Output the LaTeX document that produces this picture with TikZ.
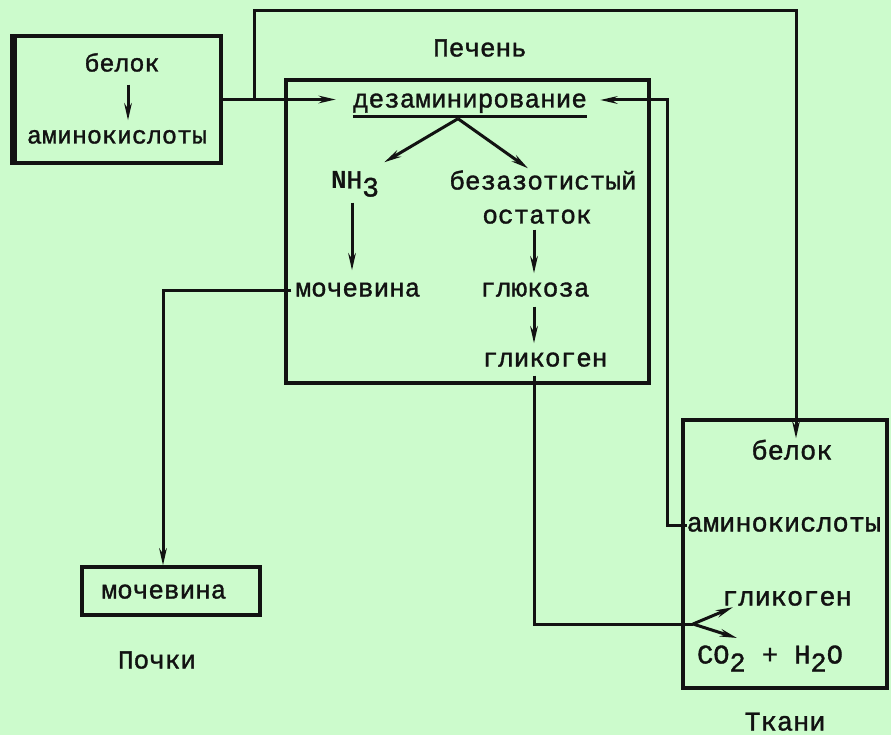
\documentclass[tikz,border=0pt]{standalone}
\usepackage{fontspec}
\setmonofont[FakeBold=1.3]{Liberation Mono}
\newfontfamily\nbold{Liberation Mono Bold}
\usetikzlibrary{arrows.meta,calc}
\definecolor{bg}{RGB}{204,251,204}
\definecolor{ink}{RGB}{18,18,18}
\begin{document}
\begin{tikzpicture}[x=1pt,y=-1pt,
  ln/.style={draw=ink, line width=3pt},
  arr/.style={ln, -{Stealth[length=17pt,width=7.5pt]}},
  box/.style={draw=ink, line width=3.2pt, inner sep=0pt},
  txt/.style={inner sep=0pt, text=ink, text height=13pt, text depth=0pt,
    font=\ttfamily\fontsize{26}{28}\selectfont},
  txts/.style={txt, font=\ttfamily\fontsize{25}{28}\selectfont},
  txtl/.style={txt, font=\ttfamily\fontsize{27}{30}\selectfont}]
\fill[bg] (0,0) rectangle (891,735);
\useasboundingbox (0,0) rectangle (891,735);

% left box
\node[box, minimum width=207pt, minimum height=127pt] (lbox) at (117.5,99.5) {};
\draw[ink, line width=6.5pt] ([xshift=1pt]lbox.north west) -- ([xshift=1pt]lbox.south west);
\node[txts] (belok1) at (122,65) {белок};
\node[txts] (amino1) at (117,137) {аминокислоты};
\draw[arr] ([xshift=6pt,yshift=-13pt]belok1.south) -- ([xshift=11pt,yshift=10pt]amino1.north);

% liver
\node[box, minimum width=363pt, minimum height=303pt] (liver) at (467.5,231.5) {};
\node[txt] (pech) at (480,50) {Печень};
\node[txt] (dez) at (470,101) {дезаминирование};
\draw[ln] ([yshift=-9pt]dez.south west) -- ([yshift=-9pt]dez.south east);
\coordinate (dz) at ([xshift=-12pt,yshift=-11pt]dez.south);
\node[txt] (nh3) at (355,182) {{\nbold N}H\raisebox{-8pt}{\fontsize{28}{28}\selectfont 3}};
\node[txt] (bez) at (543,183) {безазотистый};
\node[txt] (ost) at (537,217) {остаток};
\node[txt] (moch1) at (358,290) {мочевина};
\node[txt] (gluk) at (535,290) {глюкоза};
\node[txt] (glik) at (545,360) {гликоген};
\draw[arr] (dz) -- ([xshift=5pt,yshift=13pt]nh3.north east);
\draw[arr] (dz) -- ([xshift=-15pt,yshift=8pt]bez.north);
\draw[arr] ([xshift=-3pt,yshift=-14pt]nh3.south) -- ([xshift=-6pt,yshift=13pt]moch1.north);
\draw[arr] ([xshift=-3pt,yshift=-6pt]ost.south) -- ([xshift=-1pt,yshift=10pt]gluk.north);
\draw[arr] ([xshift=-1pt,yshift=-10pt]gluk.south) -- ([xshift=-11pt,yshift=10pt]glik.north);

% kidneys
\node[box, minimum width=178pt, minimum height=48pt] (ubox) at (171,591) {};
\node[txt] (moch2) at (164,592) {мочевина};
\node[txt] (pochki) at (157,662) {Почки};

% tissue
\node[box, minimum width=204pt, minimum height=268pt] (tbox) at (785,554) {};
\node[txtl] (belok2) at (792,453) {белок};
\node[txtl] (amino2) at (784,525) {аминокислоты};
\node[txtl] (glik2) at (787,599) {гликоген};
\node[txtl] (co2) at (770,657) {CO\raisebox{-8pt}{2} + H\raisebox{-8pt}{2}O};
\node[txtl] (tkan) at (785,724) {Ткани};

% connectors
\draw[arr] (lbox.east) -- ([xshift=-17pt]dez.west |- lbox.east);
\coordinate (j1) at ($(lbox.east)+(32,0)$);
\coordinate (topy) at (0,11);
\coordinate (tin) at ([xshift=11pt,yshift=-20pt]tbox.north);
\draw[arr] (j1) |- (topy -| tin) -- (tin);
\coordinate (rj) at (667,100);
\draw[arr] (amino2.west) -| (rj) -- ([xshift=13pt]dez.east |- rj);
\draw[arr] ([xshift=-4pt]moch1.west) -| ([xshift=-8pt]ubox.north);
\coordinate (gx) at (534,0);
\coordinate (split) at (693,624);
\draw[ln] ([yshift=-9pt]glik.south -| gx) |- (split);
\draw[arr] (split) -- ([xshift=11pt,yshift=-1.5pt]glik2.south west);
\draw[arr] (split) -- (737,638);
\end{tikzpicture}
\end{document}
